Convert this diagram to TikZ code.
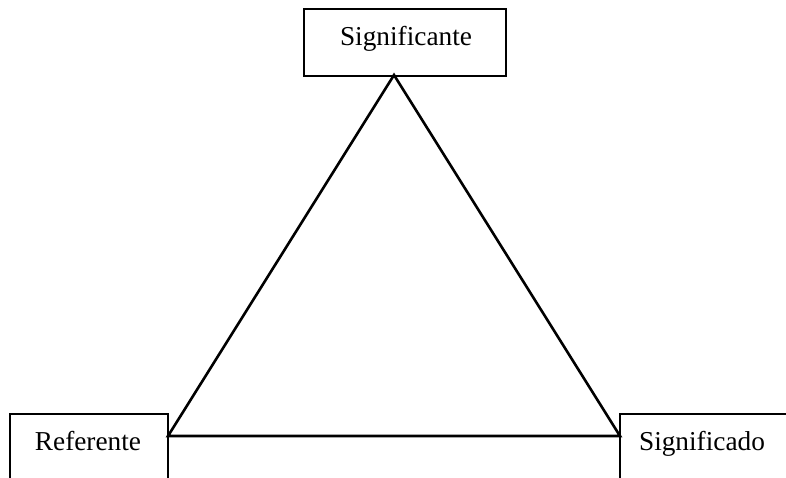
\documentclass[tikz,border=0pt]{standalone}
\usepackage{fontspec}
\setmainfont{Liberation Serif}
\begin{document}
\begin{tikzpicture}[x=1pt,y=-1pt,
  boxline/.style={draw=black,line width=1.8pt},
  triline/.style={draw=black,line width=2.6pt,line join=miter},
  lbl/.style={anchor=base,inner sep=0pt,font=\fontsize{27.3}{32}\selectfont}]
\useasboundingbox (0,0) rectangle (786,477);
% boxes
\node[boxline,rectangle,minimum width=202pt,minimum height=67pt,inner sep=0pt,anchor=north west] (topbox) at (303,8) {};
\draw[boxline] (10,480) -- (10,414) -- (168,414) -- (168,480);
\draw[boxline] (620,480) -- (620,414) -- (790,414);
% labels
\node[lbl] (signante) at (406,45) {Significante};
\node[lbl] (referente) at (88,450) {Referente};
\node[lbl] (signado) at (702,450) {Significado};
% triangle
\coordinate (apex) at (394,75);
\coordinate (left) at (168,436);
\coordinate (right) at (620,436);
\draw[triline] (apex) -- (left) -- (right) -- cycle;
\end{tikzpicture}
\end{document}
